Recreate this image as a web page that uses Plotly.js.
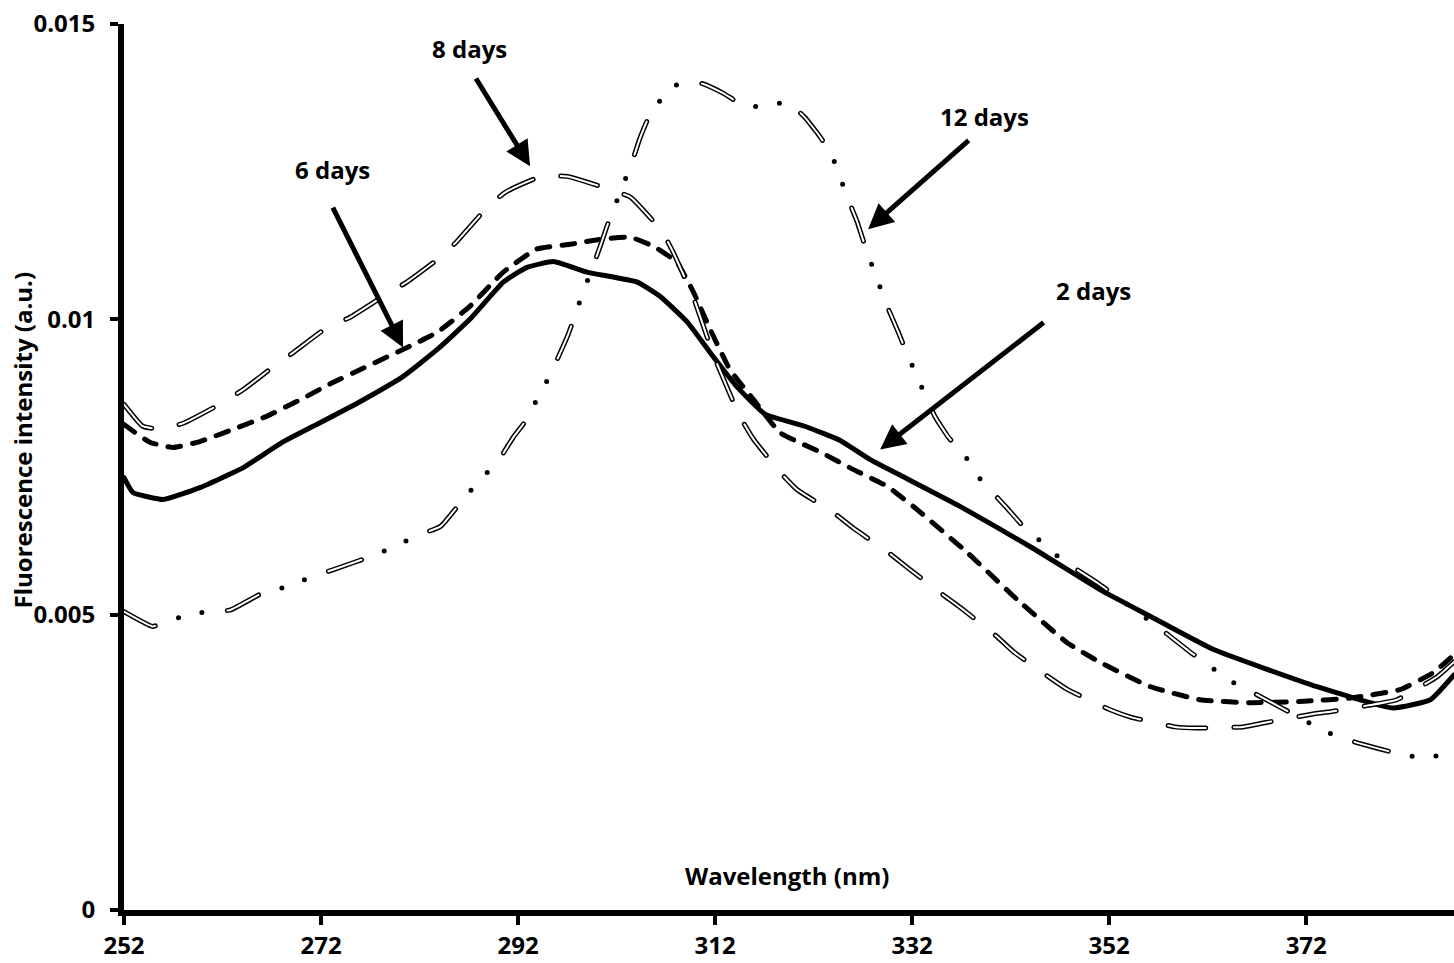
<!DOCTYPE html>
<html>
<head>
<meta charset="utf-8">
<script src="https://cdn.plot.ly/plotly-3.0.1.min.js"></script>
<style>html,body{margin:0;padding:0;background:#fff;}#chart{width:1454px;height:963px;}</style>
</head>
<body>
<div id="chart"></div>
<script>
// ---- data ----
const xTickVals = [252, 272, 292, 312, 332, 352, 372];
const yTickVals = [0, 0.005, 0.01, 0.015];
const yTickText = ['0', '0.005', '0.01', '0.015'];

const days2_x = [252,252.9,256.0,259.7,264.1,268.1,271.9,276.0,280.3,283.8,287.1,290.5,292.9,295.6,299.0,304.1,306.4,309.2,311.8,314.2,317.1,321.1,324.7,327.7,330.8,336.9,344.3,351.1,356.2,362.6,373.1,380.8,384.6,387];
const days2_y = [0.00732,0.00707,0.00695,0.00715,0.00749,0.00792,0.00825,0.00861,0.00903,0.00949,0.01000,0.01063,0.01088,0.01098,0.01080,0.01063,0.01039,0.00995,0.00937,0.00886,0.00839,0.00819,0.00795,0.00763,0.00736,0.00683,0.00612,0.00542,0.00497,0.00441,0.00378,0.00342,0.00356,0.00398];

const days6_x = [252,254.6,257.0,259.7,263.1,266.5,269.9,273.2,276.0,280.3,283.8,287.1,290.5,293.9,297.3,300.6,303.4,305.7,308.1,309.8,311.5,313.5,315.9,318.6,322.7,326.0,329.5,332.5,337.6,342.7,347.7,351.1,356.2,361.2,366.3,371.4,376.5,381.5,384.9,387];
const days6_y = [0.00822,0.00792,0.00783,0.00793,0.00814,0.00836,0.00864,0.00893,0.00915,0.00949,0.00978,0.01022,0.01080,0.01119,0.01127,0.01136,0.01139,0.01124,0.01097,0.01046,0.00983,0.00915,0.00864,0.00808,0.00775,0.00746,0.00717,0.00678,0.00605,0.00525,0.00453,0.00419,0.00378,0.00356,0.00351,0.00353,0.00359,0.00373,0.00402,0.00432];

const days8_x = [252,253.9,255.7,258.0,261.7,264.1,267.1,269.2,272.6,274.9,278.3,280.7,284.1,285.8,288.9,290.7,294.2,297.0,301.3,303.4,306.6,307.7,309.8,311.8,314.5,315.9,318.6,320.3,324.0,326.0,329.6,331.5,335.1,336.9,340.6,342.3,346.0,347.8,352.1,354.1,358.7,360.9,365.6,367.8,372.4,374.6,378.5,381.2,385.3,387];
const days8_y = [0.00856,0.00819,0.00814,0.00824,0.00856,0.00881,0.00919,0.00944,0.00986,0.01003,0.01039,0.01063,0.01105,0.01132,0.01190,0.01215,0.01241,0.01242,0.01220,0.01207,0.01149,0.01115,0.01037,0.00941,0.00836,0.00797,0.00741,0.00712,0.00673,0.00647,0.00605,0.00580,0.00534,0.00512,0.00463,0.00437,0.00393,0.00373,0.00339,0.00327,0.00310,0.00308,0.00310,0.00317,0.00331,0.00336,0.00347,0.00356,0.00395,0.00420];

const days12_x = [252,254.9,256.0,258.0,260.4,262.8,266.1,268.5,270.9,273.2,277.3,279.7,281.7,284.1,286.8,288.5,290.2,291.5,292.9,293.9,295.0,296.1,297.1,298.6,299.5,300.3,301.1,302.7,303.6,304.4,305.4,307.7,310.5,312.8,315.0,317.3,319.3,321.1,322.7,323.9,325.5,326.4,327.2,328.0,329.6,330.6,331.5,332.5,334.3,335.7,337.4,338.7,341.6,343.3,345.2,347.2,350.8,356.9,360.2,362.3,364.3,366.6,370.4,372.6,374.7,377.2,381.5,383.8,386.3,387];
const days12_y = [0.00505,0.00480,0.00486,0.00497,0.00505,0.00508,0.00537,0.00547,0.00563,0.00576,0.00600,0.00617,0.00634,0.00649,0.00703,0.00734,0.00766,0.00800,0.00831,0.00864,0.00898,0.00937,0.00975,0.01046,0.01085,0.01122,0.01161,0.01229,0.01268,0.01308,0.01347,0.01395,0.01400,0.01383,0.01361,0.01361,0.01368,0.01342,0.01308,0.01275,0.01203,0.01166,0.01125,0.01088,0.01017,0.00978,0.00941,0.00903,0.00836,0.00800,0.00768,0.00734,0.00681,0.00649,0.00622,0.00593,0.00554,0.00480,0.00437,0.00412,0.00388,0.00368,0.00334,0.00314,0.00297,0.00283,0.00264,0.00258,0.00264,0.00268];

const seriesLabels = ['2 days', '6 days', '8 days', '12 days'];

// ---- traces ----
const SH = {shape: 'spline', smoothing: 0.4};
const traces = [
  {x: days2_x, y: days2_y, mode: 'lines', name: seriesLabels[0],
   line: Object.assign({color: '#000', width: 5, dash: 'solid'}, SH)},
  {x: days6_x, y: days6_y, mode: 'lines', name: seriesLabels[1],
   line: Object.assign({color: '#000', width: 5, dash: '13px,12px'}, SH)},
  {x: days8_x, y: days8_y, mode: 'lines', name: seriesLabels[2],
   line: Object.assign({color: '#000', width: 5, dash: '38px,28px'}, SH)},
  {x: days8_x, y: days8_y, mode: 'lines', name: seriesLabels[2] + ' inner',
   line: Object.assign({color: '#fff', width: 2, dash: '38px,28px'}, SH)},
  {x: days12_x, y: days12_y, mode: 'lines', name: seriesLabels[3],
   line: Object.assign({color: '#000', width: 5, dash: '35px,24.5px,0px,24px,0px,25.5px'}, SH)},
  {x: days12_x, y: days12_y, mode: 'lines', name: seriesLabels[3] + ' inner',
   line: Object.assign({color: '#fff', width: 2, dash: '35px,74px'}, SH)}
];

const FONT = {family: 'Open Sans, Noto Sans, sans-serif', size: 24, color: '#000', weight: 'bold'};

function label(text, x, y) {
  return {text: text, x: x, y: y, xref: 'x', yref: 'y', showarrow: false,
          font: FONT, xanchor: 'center', yanchor: 'middle'};
}
function arrow(x, y, ax, ay) {
  return {text: '', x: x, y: y, ax: ax, ay: ay, xref: 'x', yref: 'y', axref: 'x', ayref: 'y',
          showarrow: true, arrowhead: 2, arrowsize: 1, arrowwidth: 5, arrowcolor: '#000', standoff: 0};
}

const layout = {
  width: 1454, height: 963,
  margin: {l: 124, r: 0, t: 24, b: 53, pad: 0},
  paper_bgcolor: '#fff', plot_bgcolor: '#fff',
  showlegend: false,
  font: FONT,
  xaxis: {
    range: [252, 387], tickvals: xTickVals, ticktext: xTickVals.map(String),
    showgrid: false, zeroline: false, showline: true, linecolor: '#000', linewidth: 6,
    ticks: 'outside', ticklen: 9, tickwidth: 4, tickcolor: '#000',
    tickfont: FONT, fixedrange: true
  },
  yaxis: {
    range: [0, 0.015], tickvals: yTickVals, ticktext: yTickText,
    showgrid: false, zeroline: false, showline: true, linecolor: '#000', linewidth: 6,
    ticks: 'outside', ticklen: 8, tickwidth: 4, tickcolor: '#000', ticklabelstandoff: 10,
    tickfont: FONT, fixedrange: true
  },
  annotations: [
    {text: 'Wavelength (nm)', xref: 'paper', yref: 'paper', x: 0.4985, y: 0.0384,
     showarrow: false, font: FONT, xanchor: 'center', yanchor: 'middle'},
    {text: 'Fluorescence intensity (a.u.)', xref: 'paper', yref: 'paper', x: -0.0767, y: 0.53,
     showarrow: false, font: FONT, textangle: -90, xanchor: 'center', yanchor: 'middle'},
    label('8 days', 287.1, 0.01458),
    label('6 days', 273.2, 0.01253),
    label('12 days', 339.3, 0.01344),
    label('2 days', 350.4, 0.01048),
    arrow(293.22, 0.012593, 287.63, 0.014102),
    arrow(280.32, 0.009525, 273.12, 0.011915),
    arrow(327.53, 0.011525, 337.89, 0.013051),
    arrow(328.75, 0.007797, 345.50, 0.009966)
  ]
};

Plotly.newPlot('chart', traces, layout, {staticPlot: true, displayModeBar: false}).then(function (gd) {
  gd.querySelectorAll('.scatterlayer .js-line').forEach(function (p) {
    p.style.strokeLinecap = 'round';
    p.style.strokeLinejoin = 'round';
  });
});
</script>
</body>
</html>
